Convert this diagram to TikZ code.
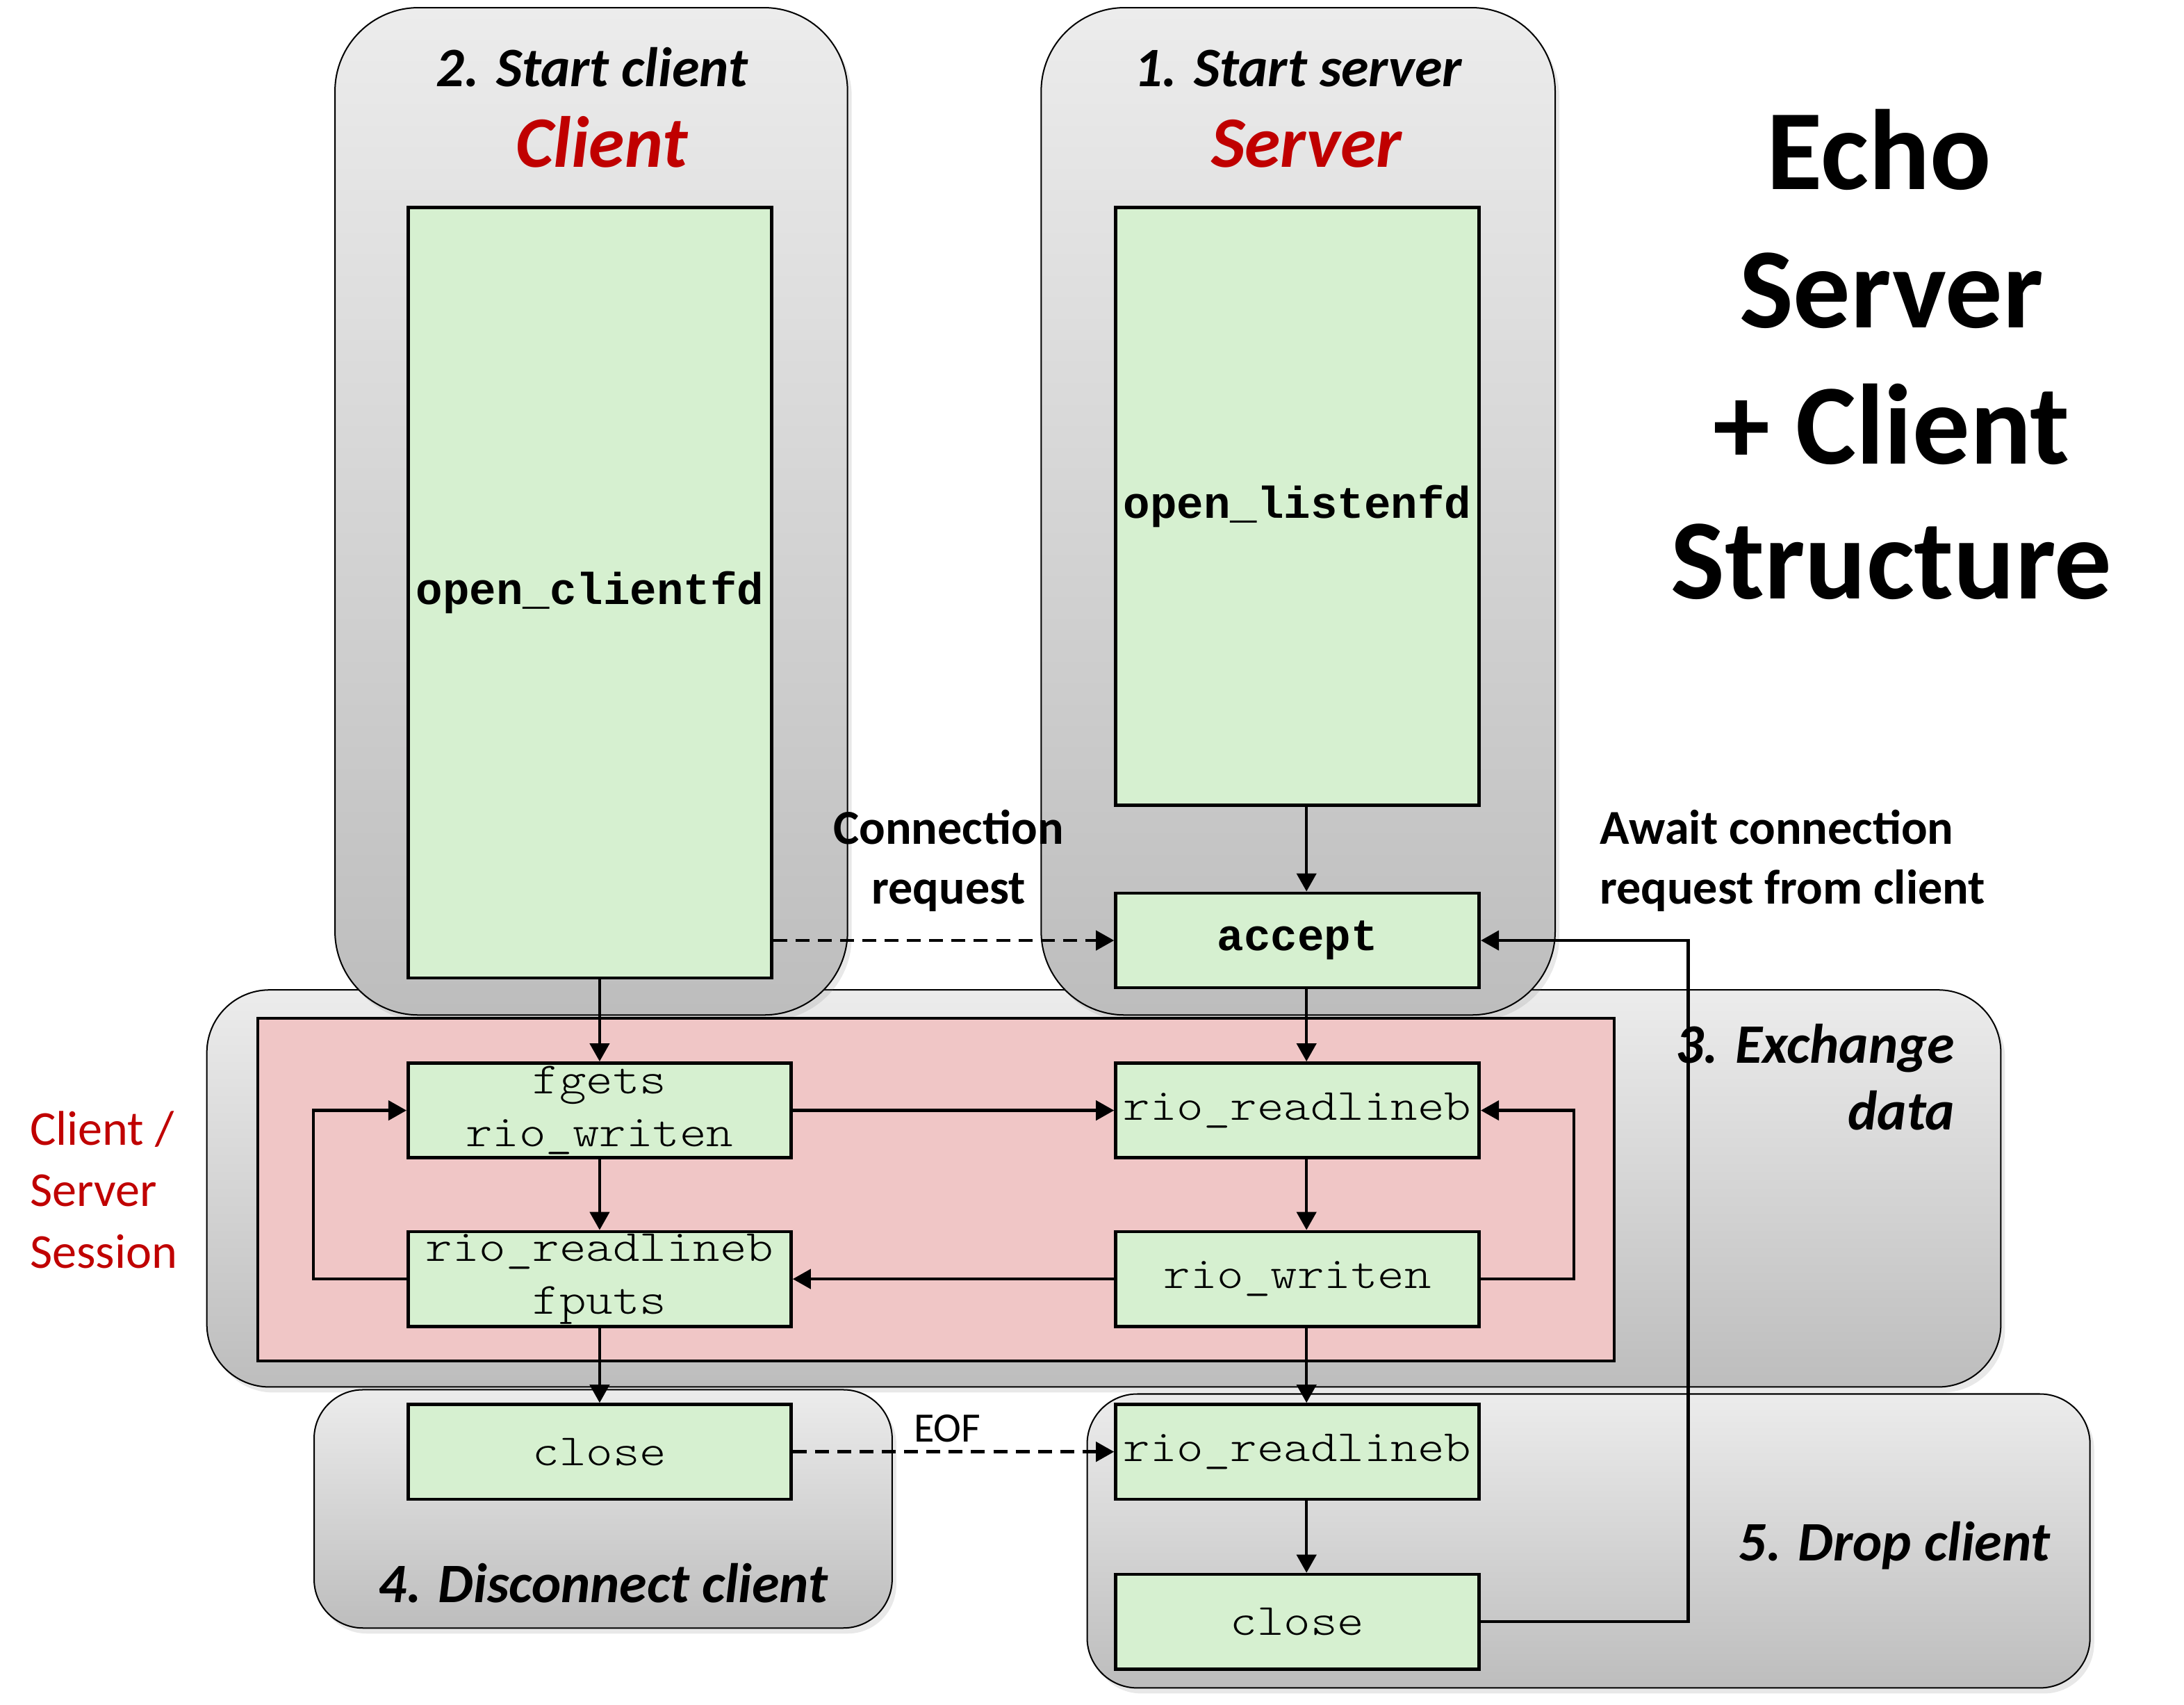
\documentclass[tikz,border=0pt]{standalone}
\usepackage{fontspec}
\setmainfont{Carlito}
\newfontfamily\codefont{lmmonolt10-regular}[Extension=.otf, FakeStretch=1.143]
\newfontfamily\codeboldfont{Liberation Mono Bold}
\usetikzlibrary{arrows.meta,shadows,calc}
\definecolor{boxgreen}{RGB}{214,240,208}
\definecolor{sessionpink}{RGB}{240,198,198}
\definecolor{titlered}{RGB}{192,0,0}
\definecolor{grayTop}{RGB}{236,236,236}
\definecolor{grayBot}{RGB}{189,189,189}
\begin{document}
\begin{tikzpicture}[x=1pt,y=-1pt,
  phase/.style={draw=black, line width=1pt, top color=grayTop, bottom color=grayBot,
    anchor=north west, inner sep=0pt,
    drop shadow={opacity=0.18, shadow xshift=3pt, shadow yshift=-4pt}},
  codebox/.style={draw=black, line width=2.3pt, fill=boxgreen, inner sep=0pt,
    minimum height=68pt, align=center, font=\codefont\fontsize{32}{38}\selectfont},
  codebold/.style={font=\codeboldfont\fontsize{32}{38}\selectfont},
  flow/.style={line width=2.2pt, -{Triangle[length=13pt,width=14pt]}},
  dashflow/.style={flow, dash pattern=on 10pt off 6pt},
  steptitle/.style={font=\fontsize{40}{48}\selectfont\bfseries\itshape},
  roletitle/.style={font=\fontsize{52}{60}\selectfont\bfseries\itshape, text=titlered},
  note/.style={font=\fontsize{35}{44}\selectfont\bfseries},
  session/.style={font=\fontsize{35}{44}\selectfont, text=titlered},
  bigtitle/.style={font=\fontsize{82}{98}\selectfont\bfseries}
]
\fill[white] (0,0) rectangle (1568,1223.7);
\useasboundingbox (0,0) rectangle (1568,1223.7);

% phase containers
\node[phase, rounded corners=45pt, minimum width=1288pt, minimum height=285pt] (exchbox) at (148,710) {};
\node[phase, rounded corners=60pt, minimum width=368pt, minimum height=723pt] (clientbox) at (240,5) {};
\node[phase, rounded corners=60pt, minimum width=369pt, minimum height=723pt] (serverbox) at (747,5) {};
\node[draw=black, line width=2pt, fill=sessionpink, anchor=north west, inner sep=0pt,
      minimum width=974pt, minimum height=246pt] (session) at (184,730) {};
\node[phase, rounded corners=35pt, minimum width=415pt, minimum height=171pt] (discbox) at (225,997) {};
\node[phase, rounded corners=36pt, minimum width=720pt, minimum height=211pt] (dropbox) at (780,1000) {};

% titles
\node[steptitle, anchor=base] (t2) at (425,62) {2. Start client};
\node[roletitle, anchor=base] (tclient) at (432,120) {Client};
\node[steptitle, anchor=base] (t1) at (932,62) {1. Start server};
\node[roletitle, anchor=base] (tserver) at (938,120) {Server};

\node[bigtitle, anchor=base] (e1) at (1349,136) {Echo};
\node[bigtitle, anchor=base] (e2) at (1358,235) {Server};
\node[bigtitle, anchor=base] (e3) at (1358,333) {+ Client};
\node[bigtitle, anchor=base] (e4) at (1358,430) {Structure};

\node[note, anchor=base] (cr1) at (681,606) {Connection};
\node[note, anchor=base] (cr2) at (681,649) {request};
\node[note, anchor=base west] (aw1) at (1145,606) {Await connection};
\node[note, anchor=base west] (aw2) at (1145,649) {request from client};

\node[steptitle, anchor=base east] (x1) at (1407,763) {3. Exchange};
\node[steptitle, anchor=base east] (x2) at (1407,811) {data};

\node[session, anchor=base west] (s1) at (18,822) {Client /};
\node[session, anchor=base west] (s2) at (18,866) {Server};
\node[session, anchor=base west] (s3) at (18,910) {Session};

\node[font=\fontsize{30}{36}\selectfont, anchor=base] (eof) at (680,1035) {EOF};
\node[steptitle, anchor=base] (t4) at (433,1150) {4. Disconnect client};
\node[steptitle, anchor=base] (t5) at (1360,1120) {5. Drop client};

% function boxes
\node[codebox, codebold, minimum width=261pt, minimum height=553pt] (openc) at (423.5,425.5) {open\_clientfd};
\node[codebox, codebold, minimum width=261pt, minimum height=429pt] (openl) at (931.5,363.5) {open\_listenfd};
\node[codebox, codebold, minimum width=261pt] (accept) at (931.5,675) {accept};
\node[codebox, minimum width=275pt] (fgets) at (430.5,797) {fgets\\rio\_writen};
\node[codebox, minimum width=261pt] (rlr) at (931.5,797) {rio\_readlineb};
\node[codebox, minimum width=275pt] (rlf) at (430.5,918) {rio\_readlineb\\fputs};
\node[codebox, minimum width=261pt] (rw) at (931.5,918) {rio\_writen};
\node[codebox, minimum width=275pt] (closeL) at (430.5,1042) {close};
\node[codebox, minimum width=261pt] (rl2) at (931.5,1042) {rio\_readlineb};
\node[codebox, minimum width=261pt] (close2) at (931.5,1164) {close};

\coordinate (lloop) at (225,0);
\coordinate (rloop) at (1130,0);
\coordinate (backloop) at (1212,0);

% connectors
\draw[flow] (fgets.north |- openc.south) -- (fgets.north);
\draw[flow] ([xshift=6.5pt]openl.south) -- ([xshift=6.5pt]accept.north);
\draw[flow] ([xshift=6.5pt]accept.south) -- ([xshift=6.5pt]rlr.north);
\draw[dashflow] (openc.east |- accept.west) -- (accept.west);
\draw[flow] (fgets.east) -- (rlr.west);
\draw[flow] (fgets.south) -- (rlf.north);
\draw[flow] ([xshift=6.5pt]rlr.south) -- ([xshift=6.5pt]rw.north);
\draw[flow] (rw.east) -- (rw.east -| rloop) |- (rlr.east);
\draw[flow] (rw.west) -- (rlf.east);
\draw[flow] (rlf.west) -- (rlf.west -| lloop) |- (fgets.west);
\draw[flow] (rlf.south) -- (closeL.north);
\draw[flow] ([xshift=6.5pt]rw.south) -- ([xshift=6.5pt]rl2.north);
\draw[dashflow] (closeL.east) -- (rl2.west);
\draw[flow] ([xshift=6.5pt]rl2.south) -- ([xshift=6.5pt]close2.north);
\draw[flow] (close2.east) -- (close2.east -| backloop) |- (accept.east);
\end{tikzpicture}
\end{document}
